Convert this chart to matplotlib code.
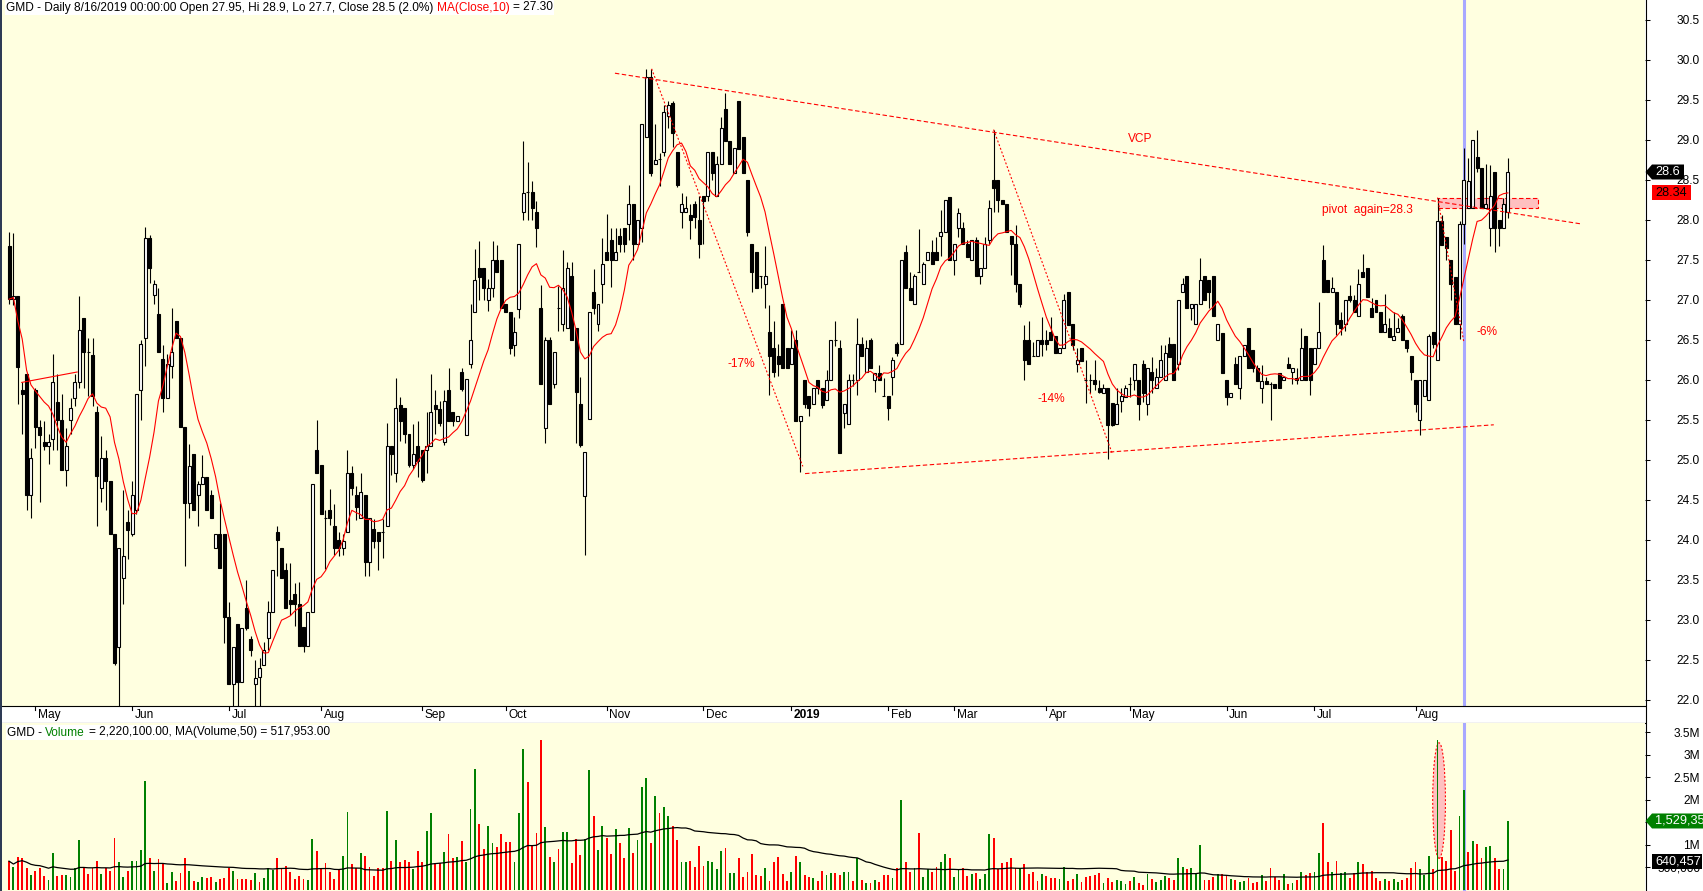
import matplotlib
matplotlib.use("Agg")
import matplotlib.pyplot as plt
import numpy as np
import pandas as pd
from matplotlib.patches import Rectangle, Polygon, Ellipse
from matplotlib.lines import Line2D
from matplotlib.transforms import IdentityTransform

plt.rcParams['font.family'] = ['Liberation Sans', 'DejaVu Sans']
plt.rcParams['lines.scale_dashes'] = False

W, H = 1703, 891

# daily OHLC (bar 0 = first bar on the left)
opens = [
    27.67, 27.01, 27.05, 25.88, 26.07, 24.56, 25.88, 25.41, 25.22, 25.17,
    25.26, 25.73, 25.50, 24.88, 25.50, 25.78, 25.97, 26.77, 26.35, 26.31,
    25.60, 24.65, 25.02, 24.74, 24.08, 22.66, 23.52, 24.22, 24.08, 24.38,
    25.88, 26.53, 27.77, 27.06, 26.82, 26.26, 25.78, 26.17, 26.74, 26.53,
    25.41, 24.46, 25.07, 24.56, 24.70, 24.79, 24.56, 23.90, 24.08, 24.08,
    23.04, 22.20, 22.95, 22.23, 23.15, 22.76, 22.20, 22.29,
    22.44, 22.77, 23.10, 24.10, 23.90, 23.62, 23.25, 23.32, 23.20, 22.91,
    22.68, 23.10, 25.13, 24.94, 24.28, 24.38, 24.18, 24.00, 23.90, 24.10,
    24.84, 24.56, 24.28, 24.56, 23.72, 24.14, 24.10, 24.10, 24.18, 25.18,
    24.84, 25.69, 25.65, 25.32, 24.94, 25.18, 25.13, 25.13, 25.18, 25.69,
    25.64, 25.22, 25.88, 25.60, 25.49, 26.10, 25.31, 26.20, 26.85, 27.40,
    27.40, 27.00, 27.15, 27.50, 27.50, 26.95, 26.85,
    26.44, 26.89, 28.10, 28.35, 28.35, 28.10, 26.90, 25.40, 26.50, 25.95,
    26.90, 26.70, 26.65, 27.30, 26.65, 25.70, 24.55, 25.51, 27.10, 26.70,
    27.20, 27.60, 27.75, 27.50, 27.80, 27.90, 27.95, 28.20, 27.70, 27.90,
    29.04, 29.79, 28.70, 28.76, 28.85, 29.30, 29.46, 28.85, 28.10, 28.10,
    28.06, 28.20, 28.00, 28.30, 28.30, 28.85, 28.30, 28.70, 29.39, 28.99,
    28.59, 29.49, 29.04, 28.50, 27.70, 27.60, 27.30, 27.20, 26.60,
    26.40, 26.30, 26.95, 26.40, 26.20, 26.50, 25.49, 26.00, 25.80, 25.70,
    26.00, 25.90, 25.75, 26.00, 26.50, 26.40, 25.59, 25.45, 26.00, 26.00,
    26.45, 26.10, 26.50, 26.00, 26.09, 25.80, 25.80, 26.04, 26.45, 26.45,
    27.60, 27.15, 26.95, 27.35, 27.20, 27.50, 27.60, 27.60, 27.80, 27.85,
    28.29, 27.50, 27.90, 27.90, 27.70, 27.50, 27.75, 27.30, 27.40, 27.75,
    28.50, 28.50, 28.25, 28.20, 27.80, 27.70, 27.20, 26.50, 26.50,
    26.30, 26.30, 26.50, 26.50, 26.60, 26.55, 26.34, 26.40, 27.10, 26.70,
    26.20, 26.40, 26.00, 26.00, 26.00, 25.90, 25.84, 25.90, 25.71, 25.45,
    25.74, 25.79, 25.95, 26.00, 26.00, 26.20, 25.70, 26.10, 25.90, 26.04,
    26.00, 26.45, 26.45, 26.20, 27.10, 27.30, 26.90, 26.70, 26.95, 27.30,
    27.25, 27.30, 26.50, 26.59, 26.00, 25.79, 26.20, 25.90, 26.30, 26.65,
    26.38, 26.15, 25.90, 25.99, 25.95, 25.95, 26.09, 26.00, 26.20,
    26.10, 26.02, 26.00, 26.55, 26.40, 26.20, 26.40, 27.50, 27.25, 27.10,
    27.10, 26.75, 26.70, 27.05, 27.00, 26.80, 27.35, 27.40, 26.90, 27.00,
    26.85, 26.60, 26.65, 26.50, 26.60, 26.80, 26.50, 26.30, 26.00, 25.50,
    25.80, 25.75, 26.60, 26.25, 27.99, 27.79, 27.50, 27.29, 26.70, 27.95,
    28.15, 28.15, 28.79, 28.65, 28.15, 27.90, 28.60, 28.00, 27.90, 28.10,
]
highs = [
    27.85, 27.84, 27.05, 25.98, 26.07, 25.15, 25.90, 25.50, 25.49, 25.33,
    26.33, 26.08, 25.83, 25.40, 25.77, 26.08, 27.05, 26.77, 26.52, 26.52,
    25.67, 25.30, 25.12, 24.74, 24.08, 23.90, 24.63, 24.38, 24.74, 25.83,
    26.50, 27.91, 27.81, 27.25, 27.15, 26.44, 26.33, 26.90, 26.74, 26.53,
    25.41, 25.20, 25.07, 24.74, 25.06, 24.79, 24.63, 24.08, 24.46, 24.08,
    23.22, 22.66, 22.95, 22.90, 23.50, 22.80, 22.50, 22.53,
    22.72, 23.24, 23.62, 24.17, 23.90, 23.71, 23.71, 23.46, 23.47, 22.91,
    23.10, 24.70, 25.50, 24.94, 24.37, 24.64, 24.45, 24.10, 24.08, 25.12,
    24.93, 24.67, 24.84, 24.56, 24.28, 24.26, 24.10, 24.26, 25.46, 25.18,
    26.02, 25.79, 25.65, 25.32, 25.45, 25.49, 25.13, 25.60, 26.07, 25.88,
    25.74, 25.88, 26.15, 25.60, 25.55, 26.15, 26.01, 26.95, 27.64, 27.74,
    27.40, 27.26, 27.74, 27.69, 27.50, 26.95, 26.85,
    26.79, 27.70, 28.99, 28.73, 28.49, 28.24, 27.19, 26.54, 26.54, 26.35,
    27.18, 27.63, 27.47, 27.47, 26.65, 26.04, 25.10, 26.85, 27.39, 26.95,
    27.78, 28.08, 27.90, 27.90, 27.90, 27.90, 28.44, 28.20, 28.00, 29.20,
    29.89, 29.89, 29.20, 28.84, 29.44, 29.49, 29.49, 28.85, 28.34, 28.30,
    28.20, 28.24, 28.30, 28.30, 28.85, 28.85, 28.80, 29.29, 29.59, 28.99,
    28.90, 29.49, 29.04, 28.50, 27.70, 27.60, 27.30, 27.68, 26.94,
    26.74, 26.45, 26.95, 26.40, 26.63, 26.63, 25.55, 26.00, 25.80, 25.90,
    26.00, 25.90, 26.13, 26.50, 26.74, 26.50, 25.70, 26.08, 26.08, 26.78,
    26.54, 26.50, 26.53, 26.09, 26.19, 26.03, 25.80, 26.29, 26.48, 27.50,
    27.69, 27.35, 27.33, 27.89, 27.48, 27.60, 27.75, 27.79, 28.12, 28.25,
    28.29, 27.70, 28.15, 27.98, 27.75, 27.75, 27.79, 27.40, 27.79, 28.25,
    29.13, 28.50, 28.25, 28.20, 27.80, 27.94, 27.20, 26.69, 26.74,
    26.48, 26.50, 26.79, 26.62, 26.79, 26.55, 26.40, 27.08, 27.10, 26.70,
    26.40, 26.40, 26.25, 26.08, 26.25, 26.00, 25.95, 25.90, 25.71, 25.90,
    25.90, 25.94, 26.04, 26.20, 26.00, 26.25, 26.15, 26.29, 26.15, 26.44,
    26.44, 26.54, 26.45, 27.00, 27.28, 27.30, 26.95, 26.95, 27.53, 27.30,
    27.25, 27.30, 26.70, 26.59, 26.00, 25.84, 26.29, 26.30, 26.44, 26.65,
    26.38, 26.19, 26.19, 26.04, 25.98, 25.95, 26.09, 26.04, 26.29,
    26.15, 26.15, 26.65, 26.55, 26.40, 26.40, 26.98, 27.69, 27.25, 27.29,
    27.10, 26.85, 27.00, 27.19, 27.06, 27.39, 27.58, 27.40, 27.02, 27.00,
    26.85, 27.08, 26.77, 26.85, 26.77, 26.83, 26.50, 26.30, 26.00, 26.00,
    26.00, 26.58, 26.60, 28.28, 28.06, 27.79, 27.50, 27.29, 27.99, 28.90,
    28.77, 29.00, 29.13, 28.65, 28.70, 28.69, 28.60, 28.00, 28.28, 28.78,
]
lows = [
    26.95, 26.94, 25.70, 25.33, 24.38, 24.28, 25.15, 24.47, 25.12, 24.95,
    25.12, 25.12, 24.88, 24.67, 25.33, 25.67, 25.90, 25.90, 25.80, 25.67,
    24.18, 24.47, 24.38, 24.08, 22.44, 21.92, 23.20, 23.76, 24.05, 24.33,
    25.50, 26.17, 27.21, 26.95, 26.35, 25.60, 25.78, 26.03, 26.53, 25.41,
    23.67, 24.28, 24.37, 24.18, 24.70, 24.37, 24.27, 23.90, 23.65, 22.71,
    22.20, 21.92, 21.92, 22.23, 22.88, 22.55, 21.92, 21.93,
    22.44, 22.63, 23.10, 23.55, 23.53, 23.15, 23.06, 22.92, 22.68, 22.60,
    22.68, 23.10, 24.84, 24.33, 23.64, 24.19, 23.81, 23.80, 23.81, 24.10,
    24.56, 24.25, 24.28, 23.55, 23.55, 23.90, 23.63, 23.77, 24.18, 24.81,
    24.72, 25.24, 25.21, 24.91, 24.89, 24.79, 24.72, 24.84, 25.18, 25.32,
    25.42, 25.19, 25.49, 25.42, 25.49, 25.86, 25.31, 26.15, 26.85, 27.00,
    27.00, 26.86, 27.04, 27.35, 26.90, 26.85, 26.32,
    26.30, 26.77, 28.00, 28.00, 28.00, 27.66, 25.95, 25.21, 25.70, 25.90,
    26.61, 26.61, 26.65, 26.50, 25.21, 25.16, 23.81, 25.51, 26.82, 26.61,
    26.96, 27.50, 27.16, 27.50, 27.60, 27.60, 27.75, 27.50, 27.70, 27.72,
    29.04, 28.55, 28.70, 28.42, 28.80, 29.15, 28.91, 28.41, 27.90, 28.10,
    27.76, 27.90, 27.52, 27.70, 28.24, 28.50, 28.30, 28.70, 28.99, 28.70,
    28.59, 28.89, 28.59, 27.80, 27.10, 27.15, 27.15, 26.90, 25.81,
    26.04, 26.05, 26.15, 26.15, 26.20, 25.49, 24.85, 25.65, 25.55, 25.70,
    25.83, 25.65, 25.75, 26.00, 26.42, 25.09, 25.40, 25.45, 25.92, 25.81,
    26.30, 26.10, 26.15, 25.85, 26.00, 25.80, 25.50, 25.81, 26.30, 26.45,
    27.15, 27.00, 26.95, 27.35, 27.20, 27.50, 27.45, 27.50, 27.55, 27.85,
    27.50, 27.31, 27.79, 27.70, 27.54, 27.50, 27.30, 27.20, 27.40, 27.70,
    28.10, 28.10, 28.20, 27.85, 27.31, 27.10, 26.91, 26.00, 26.20,
    26.30, 26.30, 26.30, 26.38, 26.50, 26.34, 26.34, 26.40, 26.69, 26.38,
    26.10, 26.24, 25.71, 25.84, 25.87, 25.84, 25.84, 25.01, 25.42, 25.45,
    25.60, 25.79, 25.79, 25.88, 25.50, 25.73, 25.56, 25.84, 25.90, 26.04,
    26.00, 26.29, 26.00, 26.13, 27.10, 26.90, 26.75, 26.70, 26.95, 27.00,
    26.90, 26.80, 26.50, 26.09, 25.69, 25.79, 25.95, 25.76, 26.30, 26.15,
    26.10, 25.99, 25.71, 25.95, 25.50, 25.90, 25.90, 26.00, 26.15,
    25.95, 25.95, 26.00, 26.00, 25.81, 26.20, 26.40, 27.10, 27.10, 27.10,
    26.56, 26.56, 26.61, 26.98, 26.85, 26.80, 27.29, 27.04, 26.79, 26.85,
    26.60, 26.60, 26.54, 26.50, 26.60, 26.50, 26.35, 26.00, 25.60, 25.31,
    25.80, 25.75, 26.40, 26.25, 27.69, 27.50, 27.00, 26.70, 26.51, 27.70,
    28.15, 28.15, 28.60, 28.15, 28.15, 27.67, 27.60, 27.67, 27.90, 28.02,
]
closes = [
    27.01, 27.05, 26.16, 25.83, 24.56, 25.02, 25.41, 25.31, 25.17, 25.22,
    25.97, 25.50, 24.88, 25.17, 25.65, 25.97, 26.63, 26.35, 26.35, 25.80,
    24.80, 25.02, 24.74, 24.08, 22.46, 23.90, 23.80, 24.13, 24.56, 25.83,
    26.45, 27.77, 27.40, 27.20, 26.35, 25.78, 26.20, 26.35, 26.53, 25.41,
    24.46, 24.93, 24.37, 24.70, 24.79, 24.37, 24.27, 24.08, 23.65, 23.04,
    22.20, 22.66, 22.23, 22.90, 22.90, 22.62, 22.28, 22.40,
    22.63, 23.10, 23.62, 24.00, 23.53, 23.15, 23.20, 23.20, 22.68, 22.68,
    23.10, 24.70, 24.84, 24.33, 24.28, 24.28, 23.90, 23.90, 23.99, 24.84,
    24.65, 24.41, 24.60, 23.72, 24.28, 23.99, 23.99, 24.10, 25.18, 25.07,
    25.65, 25.49, 25.32, 24.94, 25.08, 24.99, 24.75, 25.18, 25.60, 25.64,
    25.46, 25.74, 25.49, 25.49, 25.55, 25.89, 26.01, 26.50, 27.25, 27.29,
    27.15, 27.15, 27.50, 27.35, 26.90, 26.85, 26.40,
    26.60, 27.70, 28.34, 28.35, 28.15, 27.90, 25.95, 26.50, 25.70, 26.35,
    26.90, 27.15, 27.40, 26.50, 25.85, 25.19, 25.10, 26.85, 26.90, 26.95,
    27.45, 27.50, 27.50, 27.60, 27.70, 27.70, 28.20, 27.70, 28.00, 29.20,
    29.79, 28.59, 28.75, 28.76, 29.35, 29.44, 29.09, 28.44, 28.20, 28.15,
    28.00, 28.04, 27.70, 28.24, 28.85, 28.59, 28.70, 29.15, 28.99, 28.70,
    28.90, 28.89, 28.59, 27.85, 27.35, 27.15, 27.30, 27.30, 26.30,
    26.10, 26.20, 26.15, 26.15, 26.40, 25.49, 25.55, 25.70, 25.65, 25.90,
    25.90, 25.69, 26.00, 26.50, 26.50, 25.09, 25.70, 26.00, 26.00, 26.45,
    26.30, 26.40, 26.15, 26.09, 26.00, 25.80, 25.65, 26.25, 26.34, 27.50,
    27.15, 27.00, 27.30, 27.35, 27.45, 27.60, 27.45, 27.50, 27.85, 28.25,
    27.50, 27.70, 28.09, 27.70, 27.54, 27.75, 27.30, 27.40, 27.70, 28.15,
    28.40, 28.25, 28.20, 27.85, 27.70, 27.20, 26.95, 26.25, 26.20,
    26.30, 26.50, 26.45, 26.45, 26.50, 26.34, 26.40, 27.00, 26.69, 26.44,
    26.25, 26.24, 26.00, 26.00, 25.95, 25.85, 25.90, 25.44, 25.44, 25.70,
    25.80, 25.90, 25.95, 26.20, 25.70, 25.84, 26.15, 26.00, 26.04, 26.25,
    26.34, 26.29, 26.00, 27.00, 27.20, 26.90, 26.95, 26.95, 27.25, 27.00,
    27.10, 26.80, 26.70, 26.09, 25.79, 25.84, 25.95, 26.30, 26.44, 26.15,
    26.15, 25.99, 25.99, 25.95, 25.95, 25.90, 25.90, 26.04, 26.15,
    26.15, 26.00, 26.40, 26.00, 26.00, 26.40, 26.60, 27.10, 27.10, 27.15,
    26.70, 26.65, 27.00, 27.00, 26.85, 27.20, 27.29, 27.04, 26.79, 26.85,
    26.60, 26.70, 26.54, 26.55, 26.65, 26.50, 26.40, 26.10, 25.70, 26.00,
    26.00, 26.55, 26.45, 27.99, 27.69, 27.65, 27.20, 26.70, 27.95, 28.50,
    28.49, 29.00, 28.65, 28.15, 28.20, 28.30, 27.90, 27.90, 28.20, 28.60,
]

# volume in millions of shares, and direction of each volume bar (g = up, r = down)
volume_m = [
    .64, .51, .74, .71, .48, .33, .42, .48, .30, .22,
    .83, .30, .33, .33, .28, .48, 1.11, .51, .35, .48,
    .64, .35, .49, .42, 1.15, .61, .28, .43, .64, .64,
    .89, 2.41, .71, .43, .69, .59, .15, .39, .20, .37,
    .72, .42, .20, .17, .28, .27, .28, .17, .24, .26,
    .49, .42, .24, .24, .24, .22, .37, .17, .26, .48,
    .45, .72, .48, .54, .40, .24, .30, .25, .22, 1.13,
    .87, .48, .59, .39, .24, .44, .76, 1.72, .57, .48,
    .83, .76, .52, .30, .48, .48, 1.74, .65, 1.11, .63,
    .67, .62, .46, .86, .63, 1.30, 1.70, .59, .59, .85,
    1.24, .72, .74, 1.09, .61, 1.80, 2.67, 1.46, .91, 1.41,
    1.04, .96, 1.24, 1.06, 1.06, .61, 1.70,
    3.13, 2.39, 1.00, 1.26, 3.33, 1.39, .74, .61, .91, 1.28,
    1.28, .59, 1.13, .78, 1.13, 2.65, 1.65, .89, 1.41, 1.15,
    .80, 1.35, 1.04, .72, 1.37, .83, 1.11, 2.28, 2.48, 1.04,
    2.09, 1.70, 1.85, 1.65, 1.41, 1.11, .63, .61, .65, .52,
    .98, .54, .65, .63, .46, .87, .93, .37, .37, .70,
    .28, .39, .80, .33, .30, .48, .20, .61, .74, .35,
    .20, .39, .76, .63, .33, .28, .26, .20, .43, .33,
    .37, .37, .33, .39, .39, .20, .71, .22, .15, .15,
    .22, .17, .33, .33, .26, .48, 2.00, .61, .39, .48,
    1.26, .28, .46, .39, .52, .61, .80, .72, .28, .46,
    .48, .30, .35, .37, .24, .35, 1.24, 1.15, .46, .59,
    .61, .70, .48, .48, .57, .35, .39,
    .20, .35, .30, .26, .26, .24, .50, .20, .24, .35,
    .17, .28, .30, .33, .37, .15, .26, .17, .22, .20,
    .13, .20, .28, .15, .11, .35, .24, .17, .22, .30,
    .26, .22, .72, .50, .46, .48, .37, 1.00, .22, .22,
    .28, .35, .35, .33, .24, .22, .17, .20, .26, .15,
    .17, .33, .20, .48, .28, .22, .35, .13, .15, .22,
    .39, .33, .37, .39, .83, 1.48, .63, .39, .65, .37,
    .39, .26, .37, .61, .57, .41, .43, .26, .20, .24,
    .20, .24, .17, .22, .26, .48, .63, .46, .33, .76,
    .46, 3.33, .74, .65, 1.33, .43, 1.63, 2.22, .85, 1.09,
    1.02, .70, .96, .98, .72, .46, .46, 1.53,
]
volume_dir = (
    "rgrrrgrrrg" "grrggggrrr" "rgrrrggrgg" "ggrgrrggrr" "rgrggrrgrr"
    "rgrrrrgrgg" "grrrrrrrgg" "rrrrrrggrr" "grrrrrgrgr" "rrgrrggrrg"
    "rrgrgggrrg" "grrrrgg"
    "grrrrgrgrg" "grrrggrggr" "rgrrgrgggr" "grggrrggrr" "rrggggrggr"
    "rrrrrgrrrr" "rgrgrrgrrg" "grrggrgrgr" "grrrgrgrrg" "rggrrggrgg"
    "rrgrgggrrr" "rrrgrrr"
    "rgrrrggrrg" "rrrrrgrrgg" "grgrrgrggg" "rrggrgggrr" "rgrrgrggrr"
    "rgrrrrgrgr" "grrggrrgrg" "grrgrrrrrg" "rggrrrrggg" "rgrrrrggrg"
    "rrggrrgg"
)

month_names = ["May", "Jun", "Jul", "Aug", "Sep", "Oct", "Nov", "Dec", "2019",
               "Feb", "Mar", "Apr", "May", "Jun", "Jul", "Aug"]
month_bars = [6, 28, 50, 71, 94, 113, 136, 158, 178, 200, 215, 236, 255, 277, 297, 320]

price_ticks = np.arange(22.0, 30.51, 0.5)
vol_ticks = [0.5e6, 1e6, 1.5e6, 2e6, 2.5e6, 3e6, 3.5e6]
vol_tick_labels = ["500,000", "1M", "1.5M", "2M", "2.5M", "3M", "3.5M"]

cursor_bar = 331
last_close_tag = 28.6
last_ma_tag = 28.34
last_vol_tag = 1529350
last_vol_ma_tag = 640457

# drawn annotations (bar index, price)
upper_line = [(137.85, 29.835), (357.8, 27.95)]
lower_line = [(181.1, 24.83), (337.8, 25.44)]
early_line = [(2.9, 25.97), (15.5, 26.10)]
pullbacks = [[(146.2, 29.89), (180.6, 24.92)],
             [(224.0, 29.13), (251.0, 25.08)],
             [(325.0, 28.28), (331.0, 26.47)]]
labels = [("VCP", 257.3, 29.01), ("-17%", 166.5, 26.2),
          ("-14%", 237.1, 25.76), ("-6%", 336.2, 26.6)]
pivot_text = ("pivot  again=28.3", 298.7, 28.125)
pivot_box = (325.0, 347.9, 28.15, 28.28)
vol_spike = (325.35, 2.9, 0.70e6, 3.26e6)

RED = "#ff0000"
GREEN = "#008000"
BG = "#ffffe0"
FS = 8.6

o = np.array(opens); h = np.array(highs); l = np.array(lows); c = np.array(closes)
vol = np.array(volume_m) * 1e6
n = len(c)
idx = np.arange(n)
ma10 = pd.Series(c).rolling(10, min_periods=1).mean()
vma50 = pd.Series(vol).rolling(50, min_periods=1).mean()

fig = plt.figure(figsize=(W / 100, H / 100), dpi=100)
fig.patch.set_facecolor("white")

AXR = 1645 / W
ax = fig.add_axes([0, (H - 706) / H, AXR, 706 / H])
band = fig.add_axes([0, (H - 723) / H, AXR, 17 / H])
axv = fig.add_axes([0, 0, AXR, 168 / H])

xlim = (-2.05, 372.2)
for a in (ax, band, axv):
    a.set_xlim(*xlim)
    for s in a.spines.values():
        s.set_visible(False)
    a.set_xticks([])

# --- price panel ---
ax.set_facecolor(BG)
ax.set_ylim(21.925, 30.75)
up = c >= o
ax.vlines(idx, l, h, color="black", lw=0.8, zorder=3)
bot = np.minimum(o, c)
hgt = np.abs(c - o)
ax.bar(idx[up], hgt[up], bottom=bot[up], width=0.68, facecolor="white",
       edgecolor="black", lw=0.8, zorder=4)
ax.bar(idx[~up], hgt[~up], bottom=bot[~up], width=0.68, facecolor="black",
       edgecolor="black", lw=0.8, zorder=4)
ax.plot(idx, ma10, color=RED, lw=0.8, zorder=5)

dash = (0, (3.2, 1.8))
dot = (0, (1.4, 1.4))
for seg in (upper_line, lower_line):
    ax.plot([seg[0][0], seg[1][0]], [seg[0][1], seg[1][1]], color=RED, lw=0.8, ls=dash, zorder=6)
ax.plot([early_line[0][0], early_line[1][0]], [early_line[0][1], early_line[1][1]],
        color=RED, lw=0.8, zorder=6)
for seg in pullbacks:
    ax.plot([seg[0][0], seg[1][0]], [seg[0][1], seg[1][1]], color=RED, lw=0.8, ls=dot, zorder=6)
for txt, xx, yy in labels:
    ax.text(xx, yy, txt, color=RED, fontsize=FS, ha="center", va="center", zorder=7)
ax.text(pivot_text[1], pivot_text[2], pivot_text[0], color=RED, fontsize=FS,
        ha="left", va="center", zorder=7)
x0, x1, y0, y1 = pivot_box
ax.add_patch(Rectangle((x0, y0), x1 - x0, y1 - y0, facecolor="#ffc0c0",
                       edgecolor=RED, lw=0.8, ls=dash, zorder=2))
ax.axvline(cursor_bar, color="#a8a8ff", lw=2.2, zorder=2.5)

ax.yaxis.tick_right()
ax.set_yticks(price_ticks)
ax.set_yticklabels([f"{v:.1f}" for v in price_ticks])
ax.tick_params(axis="y", direction="out", length=3.6, width=0.75, pad=36, labelsize=FS)
for t in ax.get_yticklabels():
    t.set_ha("right")

# --- date band ---
band.set_facecolor("white")
band.set_ylim(0, 1)
band.set_yticks([])
for side in ("top", "bottom"):
    band.spines[side].set_visible(True)
    band.spines[side].set_linewidth(0.8)
    band.spines[side].set_color("black")
for name, b in zip(month_names, month_bars):
    band.plot([b, b], [1, 0.78], color="black", lw=0.8)
    band.text(b + 0.6, 0.45, name, fontsize=FS, ha="left", va="center",
              fontweight="bold" if name == "2019" else "normal")

# --- volume panel ---
axv.set_facecolor(BG)
axv.set_ylim(-0.022e6, 3.70e6)
vcols = [GREEN if d == "g" else RED for d in volume_dir]
axv.bar(idx, vol, width=0.42, color=vcols, zorder=3)
axv.plot(idx, vma50, color="black", lw=0.9, zorder=4)
cx, ew, ylo, yhi = vol_spike
axv.add_patch(Ellipse((cx, (ylo + yhi) / 2), ew, yhi - ylo, facecolor="#ffc0c0",
                      edgecolor=RED, lw=0.8, ls=dot, zorder=2))
axv.axvline(cursor_bar, color="#a8a8ff", lw=2.2, zorder=2.5)
axv.yaxis.tick_right()
axv.set_yticks(vol_ticks)
axv.set_yticklabels(vol_tick_labels)
axv.tick_params(axis="y", direction="out", length=3.6, width=0.75, pad=36, labelsize=FS)
for t in axv.get_yticklabels():
    t.set_ha("right")

# frame lines
fig.add_artist(Line2D([1645.5, 1645.5], [0, H], color="black", lw=0.8, transform=IdentityTransform()))
fig.add_artist(Rectangle((0, 0), 2, H, facecolor="#2e3b55", edgecolor="none", transform=IdentityTransform()))


def tag(axis, value, text, face, fg, arrow):
    fig.canvas.draw()
    yd = axis.transData.transform((0, value))[1]
    hh = 7.5
    if arrow:
        pts = [(1645.5, yd), (1652, yd + hh), (1712, yd + hh), (1712, yd - hh), (1652, yd - hh)]
    else:
        pts = [(1652, yd + hh), (1702 if face == "black" and len(text) > 5 else 1691, yd + hh),
               (1702 if face == "black" and len(text) > 5 else 1691, yd - hh), (1652, yd - hh)]
    if arrow and len(text) < 6:
        pts = [(1645.5, yd), (1652, yd + hh), (1684, yd + hh), (1684, yd - hh), (1652, yd - hh)]
    fig.add_artist(Polygon(pts, closed=True, facecolor=face, edgecolor="none",
                           transform=IdentityTransform(), zorder=20))
    fig.text((1655) / W, yd / H, text, color=fg, fontsize=FS + 0.6, ha="left",
             va="center", zorder=21)


tag(ax, last_close_tag, f"{last_close_tag}", "black", "white", True)
tag(ax, last_ma_tag, f"{last_ma_tag:.2f}", RED, "black", False)
tag(axv, last_vol_tag, f"{last_vol_tag:,}", GREEN, "white", True)
tag(axv, last_vol_ma_tag, f"{last_vol_ma_tag:,}", "black", "white", False)


def header(x, y_img, pieces):
    renderer = fig.canvas.get_renderer()
    start = x
    texts = []
    for s, col in pieces:
        t = fig.text(x / W, 1 - y_img / H, s, color=col, fontsize=FS, ha="left",
                     va="center", zorder=12)
        x += t.get_window_extent(renderer).width + 3.4
        texts.append(t)
    fig.add_artist(Rectangle((start - 1, H - y_img - 7.5), x - start - 1.5, 15,
                             facecolor="white", edgecolor="none",
                             transform=IdentityTransform(), zorder=11))


header(6, 7.5, [("GMD - Daily 8/16/2019 00:00:00 Open 27.95, Hi 28.9, Lo 27.7, Close 28.5 (2.0%)", "black"),
                ("MA(Close,10)", RED), ("= 27.30", "black")])
header(7, 732.5, [("GMD -", "black"), ("Volume", GREEN),
                  ("= 2,220,100.00, MA(Volume,50) = 517,953.00", "black")])

fig.savefig("out.png", dpi=100)
